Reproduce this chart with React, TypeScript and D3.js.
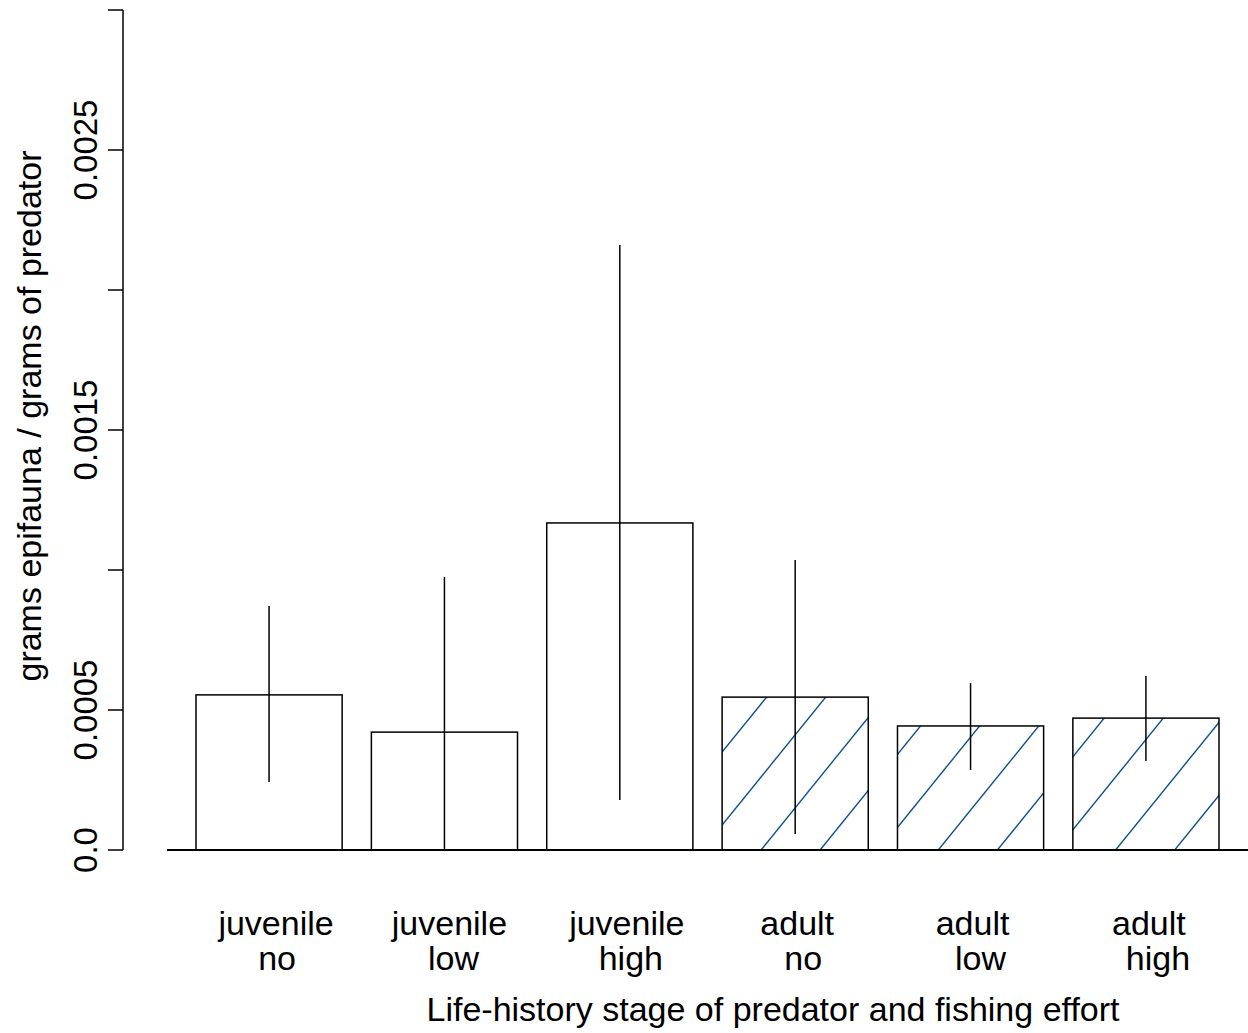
import * as d3 from "d3";

// Chart data
const stages = ["juvenile", "juvenile", "juvenile", "adult", "adult", "adult"];
const effort = ["no", "low", "high", "no", "low", "high"];
const means = [0.000554, 0.000421, 0.001168, 0.000546, 0.000443, 0.000471];
const upper = [0.000871, 0.000975, 0.002161, 0.001036, 0.000596, 0.000621];
const lower = [0.000243, 0.0, 0.000179, 0.000057, 0.000286, 0.000318];
const hatched = [false, false, false, true, true, true];
const yTicks = [0, 0.0005, 0.001, 0.0015, 0.002, 0.0025, 0.003];
const yTickLabels = ["0.0", "0.0005", "", "0.0015", "", "0.0025", ""];

const width = 1248;
const height = 1033;
const font = "'Liberation Sans', Arial, Helvetica, sans-serif";
const fontSize = 34;
const hatchColor = "#104f8f";
// small horizontal nudges of the two label lines (R centres them slightly right)
const stageNudge = [7, 5, 7, 2, 2, 3];
const effortNudge = [8, 9, 11, 8, 10, 12];

export default function App() {
  const ids = means.map((_, i) => String(i));

  // scales
  const x = d3
    .scaleBand<string>()
    .domain(ids)
    .range([196, 1219])
    .paddingInner(1 / 6)
    .paddingOuter(0);
  const y = d3.scaleLinear().domain([0, 0.003]).range([850, 10]);

  const axisX = 123;
  const baseY = y(0);

  // hatch lines: global pattern, clipped to hatched bars
  const hatchStep = 59.1;
  const hatchSlope = 1.235;
  const hatchOrigin = 761;
  const hatchLines = d3.range(-14, 10).map((k) => {
    const x0 = hatchOrigin + k * hatchStep;
    const rise = 900;
    return { x1: x0, y1: baseY, x2: x0 + rise / hatchSlope, y2: baseY - rise };
  });

  return (
    <div style={{ position: "absolute", left: 0, top: 0 }}>
      <svg width={width} height={height} style={{ display: "block", background: "#fff" }}>
        <defs>
          <clipPath id="hatch-clip">
            {ids
              .filter((_, i) => hatched[i])
              .map((id) => (
                <rect
                  key={id}
                  x={x(id)!}
                  y={y(means[+id])}
                  width={x.bandwidth()}
                  height={baseY - y(means[+id])}
                />
              ))}
          </clipPath>
        </defs>

        {/* bars */}
        {ids.map((id, i) => (
          <rect
            key={"bar" + id}
            x={x(id)!}
            y={y(means[i])}
            width={x.bandwidth()}
            height={baseY - y(means[i])}
            fill="#fff"
          />
        ))}

        <g clipPath="url(#hatch-clip)">
          {hatchLines.map((l, i) => (
            <line
              key={"h" + i}
              x1={l.x1}
              y1={l.y1}
              x2={l.x2}
              y2={l.y2}
              stroke={hatchColor}
              strokeWidth={1.4}
            />
          ))}
        </g>

        {ids.map((id, i) => (
          <rect
            key={"outline" + id}
            x={x(id)!}
            y={y(means[i])}
            width={x.bandwidth()}
            height={baseY - y(means[i])}
            fill="none"
            stroke="#000"
            strokeWidth={1.5}
          />
        ))}

        {/* error bars */}
        {ids.map((id, i) => (
          <line
            key={"err" + id}
            x1={x(id)! + x.bandwidth() / 2}
            x2={x(id)! + x.bandwidth() / 2}
            y1={y(upper[i])}
            y2={y(lower[i])}
            stroke="#000"
            strokeWidth={1.5}
          />
        ))}

        {/* baseline */}
        <line x1={167} x2={width} y1={baseY} y2={baseY} stroke="#000" strokeWidth={2} />

        {/* y axis */}
        <line x1={axisX} x2={axisX} y1={y(0.003)} y2={y(0)} stroke="#000" strokeWidth={1.5} />
        {yTicks.map((t, i) => (
          <g key={"t" + i}>
            <line x1={axisX - 15} x2={axisX} y1={y(t)} y2={y(t)} stroke="#000" strokeWidth={1.5} />
            {yTickLabels[i] && (
              <text
                transform={`translate(${97},${y(t)}) rotate(-90)`}
                textAnchor="middle"
                fontFamily={font}
                fontSize={33}
              >
                {yTickLabels[i]}
              </text>
            )}
          </g>
        ))}

        {/* category labels */}
        {ids.map((id, i) => {
          const cx = x(id)! + x.bandwidth() / 2;
          return (
            <g key={"lab" + id} fontFamily={font} fontSize={fontSize} textAnchor="middle">
              <text x={cx + stageNudge[i]} y={935}>
                {stages[i]}
              </text>
              <text x={cx + effortNudge[i]} y={970}>
                {effort[i]}
              </text>
            </g>
          );
        })}

        {/* axis titles */}
        <text x={773} y={1021} textAnchor="middle" fontFamily={font} fontSize={fontSize}>
          Life-history stage of predator and fishing effort
        </text>
        <text
          transform={`translate(${41},${416}) rotate(-90)`}
          textAnchor="middle"
          fontFamily={font}
          fontSize={fontSize}
        >
          grams epifauna / grams of predator
        </text>
      </svg>
    </div>
  );
}
